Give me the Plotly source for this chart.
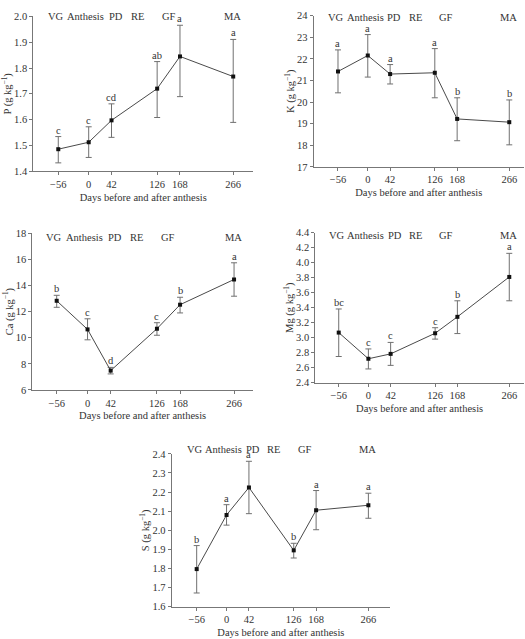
import plotly.graph_objects as go

days = [-56, 0, 42, 126, 168, 266]
day_labels = ["\u221256", "0", "42", "126", "168", "266"]
stages = ["VG", "Anthesis", "PD", "RE", "GF", "MA"]
stage_x = [-60, -5, 50, 89, 147, 265]

P_mean = [1.485, 1.512, 1.597, 1.720, 1.845, 1.767]
P_plus = [0.049, 0.060, 0.064, 0.105, 0.121, 0.144]
P_minus = [0.053, 0.059, 0.066, 0.112, 0.156, 0.178]
P_letters = ["c", "c", "cd", "ab", "a", "a"]

K_mean = [21.42, 22.16, 21.30, 21.36, 19.22, 19.07]
K_plus = [1.00, 0.97, 0.44, 1.12, 0.98, 1.03]
K_minus = [0.99, 1.00, 0.46, 1.16, 1.01, 1.05]
K_letters = ["a", "a", "a", "a", "b", "b"]

Ca_mean = [12.83, 10.64, 7.48, 10.69, 12.53, 14.46]
Ca_plus = [0.42, 0.81, 0.25, 0.46, 0.57, 1.28]
Ca_minus = [0.50, 0.80, 0.25, 0.50, 0.63, 1.28]
Ca_letters = ["b", "c", "d", "c", "b", "a"]

Mg_mean = [3.068, 2.719, 2.784, 3.059, 3.278, 3.810]
Mg_plus = [0.315, 0.131, 0.153, 0.074, 0.214, 0.315]
Mg_minus = [0.319, 0.136, 0.153, 0.078, 0.223, 0.318]
Mg_letters = ["bc", "c", "c", "c", "b", "a"]

S_mean = [1.797, 2.080, 2.224, 1.895, 2.105, 2.131]
S_plus = [0.123, 0.054, 0.137, 0.037, 0.103, 0.063]
S_minus = [0.125, 0.053, 0.137, 0.040, 0.102, 0.068]
S_letters = ["b", "a", "a", "b", "a", "a"]

FONT = "Liberation Serif, Times New Roman, serif"
TXT = "#333333"
AX = "#777777"
FS = 10.5

panels = [
    # name, mean, plus, minus, letters, xdomain, ydomain, xrange, yrange, dtick, fmt, stage yshift
    ("P", P_mean, P_plus, P_minus, P_letters, [0.0634, 0.4825], [0.7355, 0.9817], [-102, 303], [1.4, 2.0], 0.1, ".1f", 0),
    ("K", K_mean, K_plus, K_minus, K_letters, [0.5975, 0.998], [0.7423, 0.9828], [-101.7, 293.6], [17, 24], 1, "d", -2),
    ("Ca", Ca_mean, Ca_plus, Ca_minus, Ca_letters, [0.0615, 0.482], [0.387, 0.6365], [-100.3, 300.5], [6, 18], 2, "d", -4),
    ("Mg", Mg_mean, Mg_plus, Mg_minus, Mg_letters, [0.6006, 0.998], [0.3986, 0.6374], [-100.2, 293.7], [2.4, 4.4], 0.2, ".1f", -3),
    ("S", S_mean, S_plus, S_minus, S_letters, [0.327, 0.743], [0.0418, 0.2853], [-102.9, 306.7], [1.6, 2.4], 0.1, ".1f", 4),
]

fig = go.Figure()
layout = dict(
    width=525, height=639,
    margin=dict(l=0, r=0, t=0, b=0),
    paper_bgcolor="white", plot_bgcolor="white",
    showlegend=False,
    font=dict(family=FONT, size=FS, color=TXT),
    annotations=[],
)

for i, (name, mean, plus, minus, letters, xd, yd, xr, yr, dt, fmt, sshift) in enumerate(panels):
    n = "" if i == 0 else str(i + 1)
    xa, ya = "x" + n, "y" + n
    fig.add_trace(go.Scatter(
        x=days, y=mean, xaxis=xa, yaxis=ya, mode="lines+markers",
        line=dict(color="#4a4a4a", width=1),
        marker=dict(symbol="square", size=4, color="#111111"),
        error_y=dict(type="data", symmetric=False, array=plus, arrayminus=minus,
                     color="#707070", thickness=1, width=3),
        cliponaxis=False,
    ))
    common = dict(showline=True, linecolor=AX, linewidth=1, ticks="outside",
                  ticklen=3, tickcolor=AX, showgrid=False, zeroline=False,
                  tickfont=dict(family=FONT, size=FS, color=TXT))
    layout["xaxis" + n] = dict(
        domain=xd, range=xr, anchor=ya, tickmode="array", tickvals=days,
        ticktext=day_labels, title=dict(text="Days before and after anthesis",
                                        font=dict(family=FONT, size=FS, color=TXT), standoff=4),
        **common)
    layout["yaxis" + n] = dict(
        domain=yd, range=yr, anchor=xa, tick0=yr[0], dtick=dt, tickformat=fmt,
        title=dict(text=name + " (g kg<sup>\u22121</sup>)",
                   font=dict(family=FONT, size=FS, color=TXT), standoff=0),
        **common)
    for sx, st in zip(stage_x, stages):
        layout["annotations"].append(dict(
            x=sx, y=yr[1], xref=xa, yref=ya, text=st, showarrow=False,
            yanchor="middle", xanchor="center", yshift=sshift,
            font=dict(family=FONT, size=FS, color=TXT)))
    for d, m, p, lt in zip(days, mean, plus, letters):
        layout["annotations"].append(dict(
            x=d, y=m + p, xref=xa, yref=ya, text=lt, showarrow=False,
            yanchor="bottom", xanchor="center", yshift=-1,
            font=dict(family=FONT, size=FS, color=TXT)))

fig.update_layout(**layout)
fig.write_html("out.html")
